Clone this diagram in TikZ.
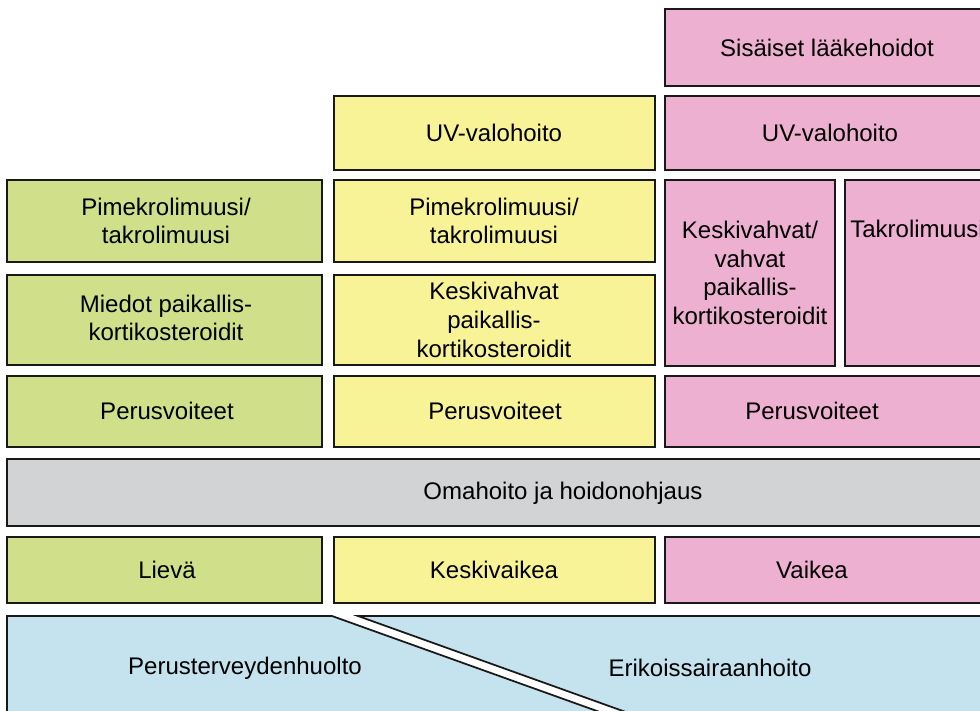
\documentclass[tikz,border=0pt]{standalone}
\usepackage{fontspec}
\setmainfont{Liberation Sans}
\definecolor{lieva}{HTML}{D0E08A}
\definecolor{keski}{HTML}{F8F396}
\definecolor{vaikea}{HTML}{EEB0D0}
\definecolor{oma}{HTML}{D2D3D5}
\definecolor{huolto}{HTML}{C5E3EE}
\begin{document}
\begin{tikzpicture}[x=0.03cm,y=-0.03cm,
    box/.style={draw=black!90,line width=1.5pt},
    txt/.style={align=center,inner sep=0pt,font=\fontsize{20.5}{24.5}\selectfont}]
    \useasboundingbox (0,0) rectangle (980,711);
    \clip (0,0) rectangle (980,711);
    % lievä
    \draw[box,fill=lieva] (7,180) rectangle (322,262);
    \draw[box,fill=lieva] (7,275) rectangle (322,365);
    \draw[box,fill=lieva] (7,376) rectangle (322,447);
    \draw[box,fill=lieva] (7,537) rectangle (322,603);
    \node[txt] (lPime) at (166,221) {Pimekrolimuusi/\\takrolimuusi};
    \node[txt] (lMiedot) at (166,318) {Miedot paikallis-\\kortikosteroidit};
    \node[txt] (lPerus) at (167,411) {Perusvoiteet};
    \node[txt] (lAste) at (167,570) {Lievä};
    % keskivaikea
    \draw[box,fill=keski] (334,96) rectangle (655,170);
    \draw[box,fill=keski] (334,180) rectangle (655,262);
    \draw[box,fill=keski] (334,275) rectangle (655,365);
    \draw[box,fill=keski] (334,376) rectangle (655,447);
    \draw[box,fill=keski] (334,537) rectangle (655,603);
    \node[txt] (kUV) at (494,133) {UV-valohoito};
    \node[txt] (kPime) at (494,221) {Pimekrolimuusi/\\takrolimuusi};
    \node[txt] (kKeski) at (494,320) {Keskivahvat\\paikallis-\\kortikosteroidit};
    \node[txt] (kPerus) at (495,411) {Perusvoiteet};
    \node[txt] (kAste) at (494,570) {Keskivaikea};
    % vaikea
    \draw[box,fill=vaikea] (665,9) rectangle (995,86);
    \draw[box,fill=vaikea] (665,96) rectangle (995,170);
    \draw[box,fill=vaikea] (665,180) rectangle (835,366);
    \draw[box,fill=vaikea] (845,180) rectangle (995,366);
    \draw[box,fill=vaikea] (665,376) rectangle (995,447);
    \draw[box,fill=vaikea] (665,537) rectangle (995,603);
    \node[txt] (vSis) at (827,48) {Sisäiset lääkehoidot};
    \node[txt] (vUV) at (830,133) {UV-valohoito};
    \node[txt] (vKeski) at (750,273) {Keskivahvat/\\vahvat\\paikallis-\\kortikosteroidit};
    \node[txt] (vTakro) at (917,229) {Takrolimuusi};
    \node[txt] (vPerus) at (812,411) {Perusvoiteet};
    \node[txt] (vAste) at (812,570) {Vaikea};
    % omahoito
    \draw[box,fill=oma] (7,459) rectangle (995,526);
    \node[txt] (oma) at (563,493) {Omahoito ja hoidonohjaus};
    % perusterveydenhuolto / erikoissairaanhoito
    \fill[huolto] (7,616) -- (332,616) -- (622,720) -- (7,720) -- cycle;
    \draw[box] (7,720) -- (7,616) -- (332,616) -- (622,720);
    \fill[huolto] (358,616) -- (995,616) -- (995,720) -- (648,720) -- cycle;
    \draw[box] (648,720) -- (358,616) -- (995,616);
    \node[txt] (perus) at (245,668) {Perusterveydenhuolto};
    \node[txt] (eriko) at (710,668) {Erikoissairaanhoito};
\end{tikzpicture}
\end{document}
